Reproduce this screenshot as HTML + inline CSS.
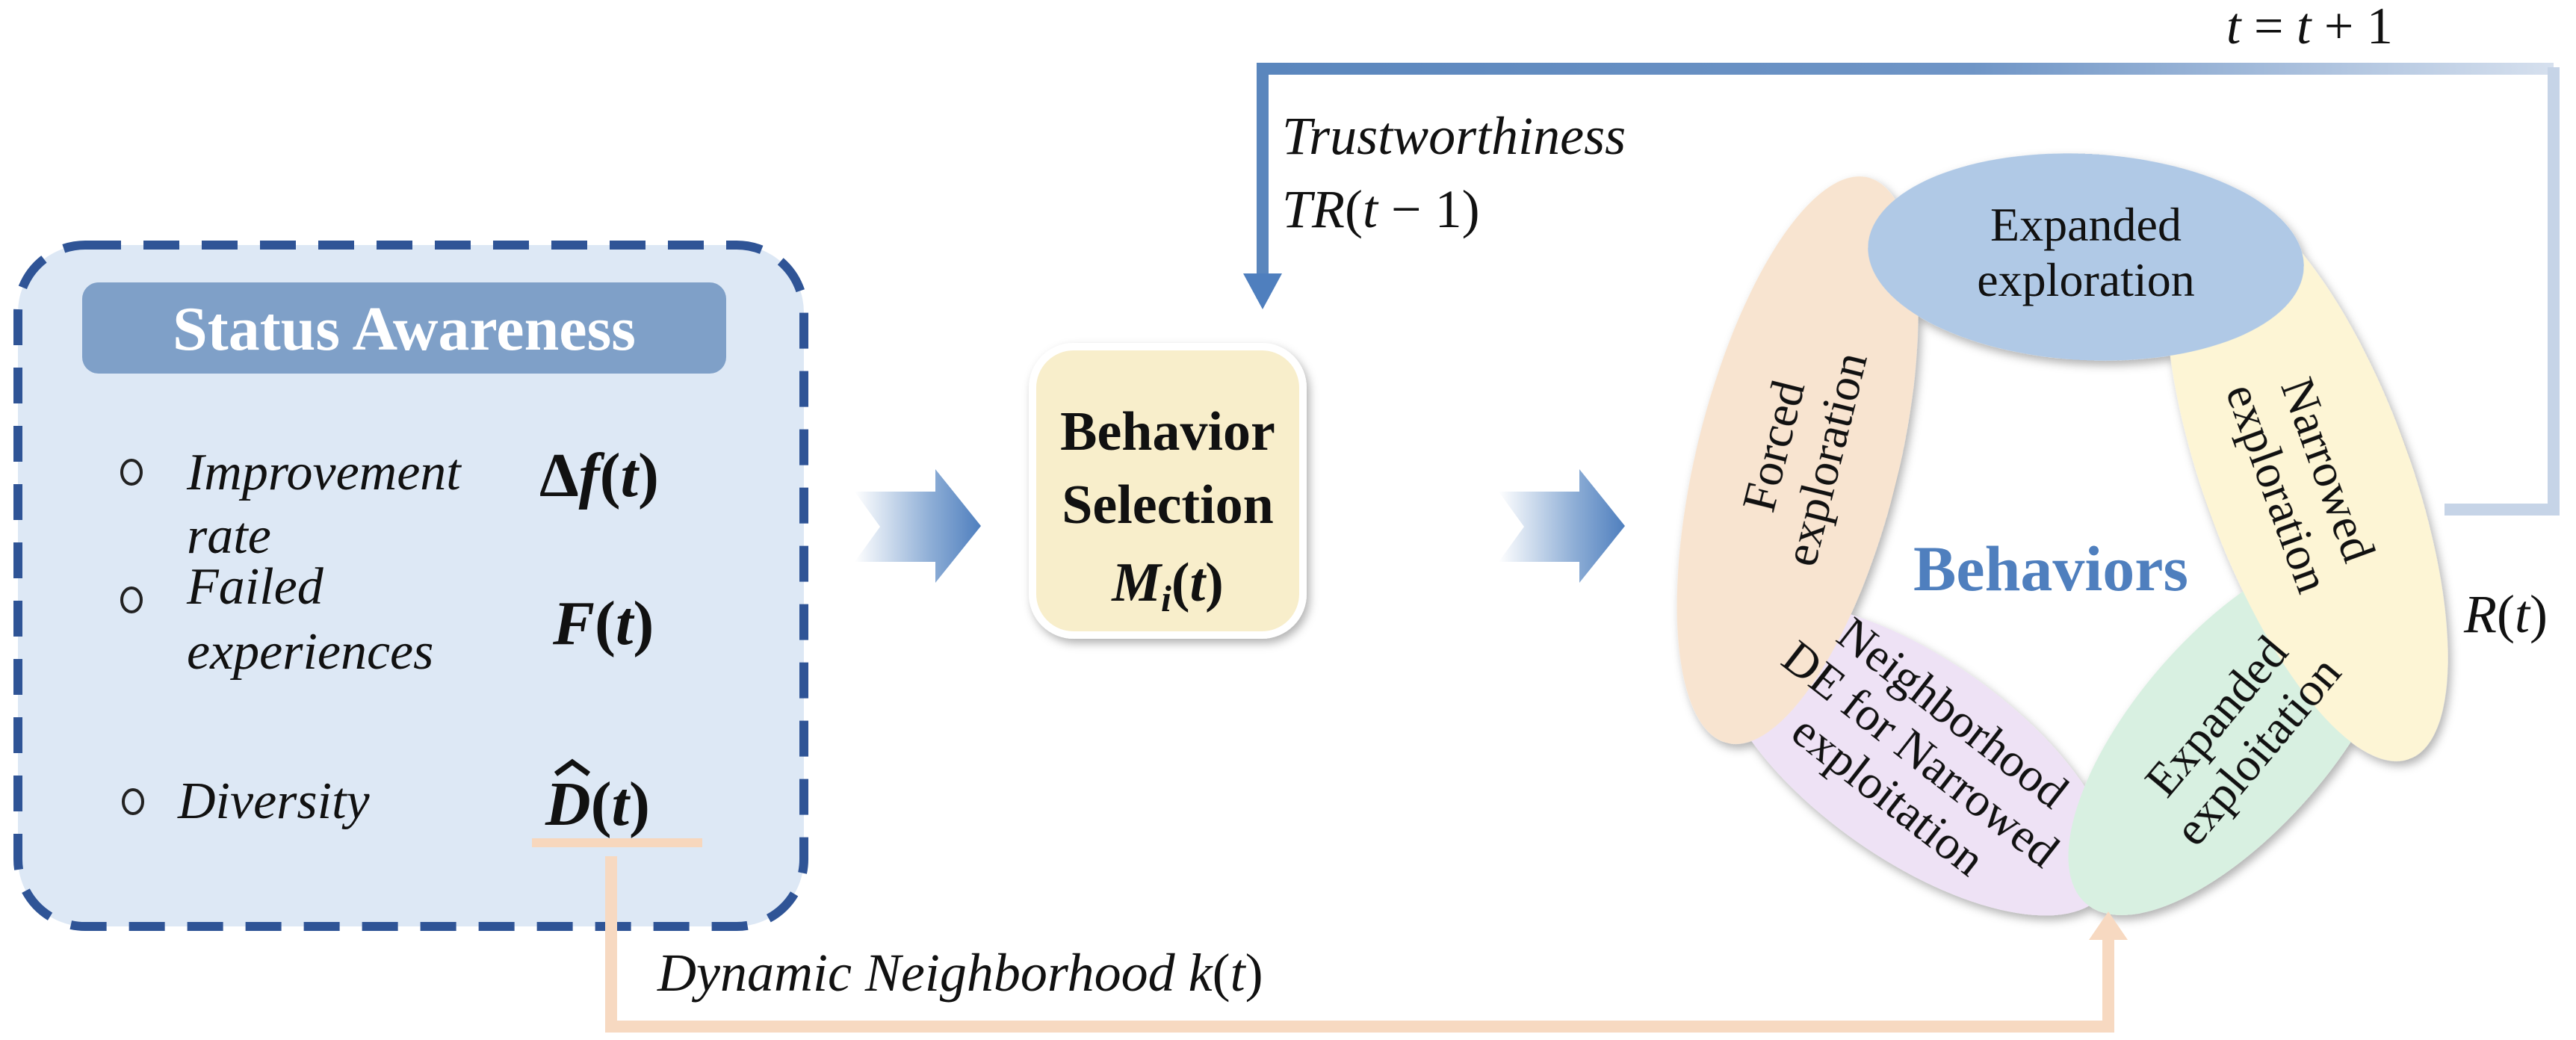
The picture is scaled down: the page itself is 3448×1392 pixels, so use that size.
<!DOCTYPE html>
<html><head><meta charset="utf-8"><style>
html,body{margin:0;padding:0;background:#fff;}
svg{display:block;}
</style></head><body>
<svg width="3448" height="1392" viewBox="0 0 3448 1392" xmlns="http://www.w3.org/2000/svg" font-family="'Liberation Serif', 'Times New Roman', 'DejaVu Serif', serif">
<defs>
<linearGradient id="topg" x1="0" x2="1" y1="0" y2="0">
<stop offset="0" stop-color="#5a86bd"/><stop offset="0.55" stop-color="#6f95c6"/><stop offset="1" stop-color="#d6e0ee"/>
</linearGradient>
<linearGradient id="arw" x1="0" x2="1" y1="0" y2="0">
<stop offset="0" stop-color="#ffffff"/><stop offset="0.6" stop-color="#8eaed6"/><stop offset="1" stop-color="#4f7fbe"/>
</linearGradient>
<filter id="sh" x="-20%" y="-20%" width="140%" height="140%"><feDropShadow dx="4" dy="6" stdDeviation="6" flood-color="#000" flood-opacity="0.3"/></filter>
</defs>

<rect x="24" y="328" width="1052" height="912" rx="90" fill="#dde8f5" stroke="#2f5496" stroke-width="12" stroke-dasharray="48 30"/>
<rect x="110" y="378" width="862" height="122" rx="22" fill="#7fa0c8"/>
<text x="541" y="468" font-size="84" font-weight="bold" fill="#fff" text-anchor="middle">Status Awareness</text>

<g font-size="70" font-style="italic" fill="#111">
<text x="250" y="655">Improvement</text>
<text x="250" y="740">rate</text>
<text x="250" y="808">Failed</text>
<text x="250" y="895">experiences</text>
<text x="238" y="1095">Diversity</text>
</g>
<g fill="none" stroke="#222" stroke-width="4">
<ellipse cx="176" cy="632" rx="13" ry="16"/>
<ellipse cx="176" cy="803" rx="13" ry="16"/>
<ellipse cx="178" cy="1073" rx="13" ry="16"/>
</g>
<g font-size="84" font-weight="bold" fill="#111">
<text x="722" y="664">Δ<tspan font-style="italic">f</tspan>(<tspan font-style="italic">t</tspan>)</text>
<text x="740" y="862"><tspan font-style="italic">F</tspan>(<tspan font-style="italic">t</tspan>)</text>
<text x="730" y="1104"><tspan font-style="italic">D</tspan>(<tspan font-style="italic">t</tspan>)</text>
</g>
<path d="M744 1036 L766 1020 L788 1036" fill="none" stroke="#111" stroke-width="7"/>
<rect x="712" y="1122" width="228" height="12" fill="#f7d7bd"/>

<path d="M818 1146 V1374 H2822 V1250" fill="none" stroke="#f7d9c1" stroke-width="16"/>
<text x="880" y="1326" font-size="72" font-style="italic" fill="#111">Dynamic Neighborhood  k<tspan font-style="normal">(</tspan>t<tspan font-style="normal">)</tspan></text>

<polygon points="1144,658 1252,658 1252,628 1313,704 1252,780 1252,752 1144,752 1178,705" fill="url(#arw)"/>
<polygon points="2006,658 2114,658 2114,628 2175,704 2114,780 2114,752 2006,752 2040,705" fill="url(#arw)"/>

<rect x="1382" y="464" width="362" height="386" rx="55" fill="#f8eecb" stroke="#fff" stroke-width="10" filter="url(#sh)"/>
<g font-size="74" font-weight="bold" fill="#111" text-anchor="middle">
<text x="1563" y="602">Behavior</text>
<text x="1563" y="700">Selection</text>
<text x="1563" y="804"><tspan font-style="italic">M</tspan><tspan font-style="italic" font-size="50" dy="14">i</tspan><tspan dy="-14">(</tspan><tspan font-style="italic">t</tspan>)</text>
</g>

<path d="M1690 400 V92 H3418" fill="none" stroke="url(#topg)" stroke-width="16"/>
<path d="M3418 90 V682 H3272" fill="none" stroke="#c6d4e7" stroke-width="16"/>
<polygon points="1664,366 1716,366 1690,414" fill="#4f7fbe"/>
<text x="2980" y="58" font-size="70" font-style="italic" fill="#111">t <tspan font-style="normal">=</tspan> t <tspan font-style="normal">+ 1</tspan></text>
<text x="1716" y="206" font-size="72" font-style="italic" fill="#111">Trustworthiness</text>
<text x="1716" y="304" font-size="72" font-style="italic" fill="#111">TR<tspan font-style="normal">(</tspan>t <tspan font-style="normal">− 1)</tspan></text>
<text x="3298" y="846" font-size="72" font-style="italic" fill="#111">R<tspan font-style="normal">(</tspan>t<tspan font-style="normal">)</tspan></text>

<g filter="url(#sh)">
<ellipse cx="2563" cy="1016" rx="310" ry="135" transform="rotate(35 2563 1016)" fill="#eee2f5"/>
<ellipse cx="2992" cy="979" rx="305" ry="132" transform="rotate(-49 2992 979)" fill="#d8f0e1"/>
<ellipse cx="3088" cy="640" rx="400" ry="138" transform="rotate(70 3088 640)" fill="#fdf5d5"/>
<ellipse cx="2406" cy="616" rx="390" ry="135" transform="rotate(-76 2406 616)" fill="#f8e4d0"/>
<ellipse cx="2792" cy="344" rx="292" ry="138" transform="rotate(3 2792 344)" fill="#b0c9e6"/>
</g>
<polygon points="2796,1258 2848,1258 2822,1220" fill="#f7d9c1"/>
<g font-size="64" fill="#111" text-anchor="middle">
<text x="2792" y="322">Expanded</text>
<text x="2792" y="396">exploration</text>
<g transform="translate(2406,605) rotate(-76)"><text y="-12">Forced</text><text y="60">exploration</text></g>
<g transform="translate(3085,640) rotate(70)"><text y="-12">Narrowed</text><text y="60">exploration</text></g>
<g transform="translate(2992,980) rotate(-50)"><text y="-12">Expanded</text><text y="60">exploitation</text></g>
<g transform="translate(2570,1010) rotate(38)"><text y="-50">Neighborhood</text><text y="20">DE for Narrowed</text><text y="90">exploitation</text></g>
</g>
<text x="2745" y="790" font-size="86" font-weight="bold" fill="#4f7fbe" text-anchor="middle">Behaviors</text>
</svg>
</body></html>
